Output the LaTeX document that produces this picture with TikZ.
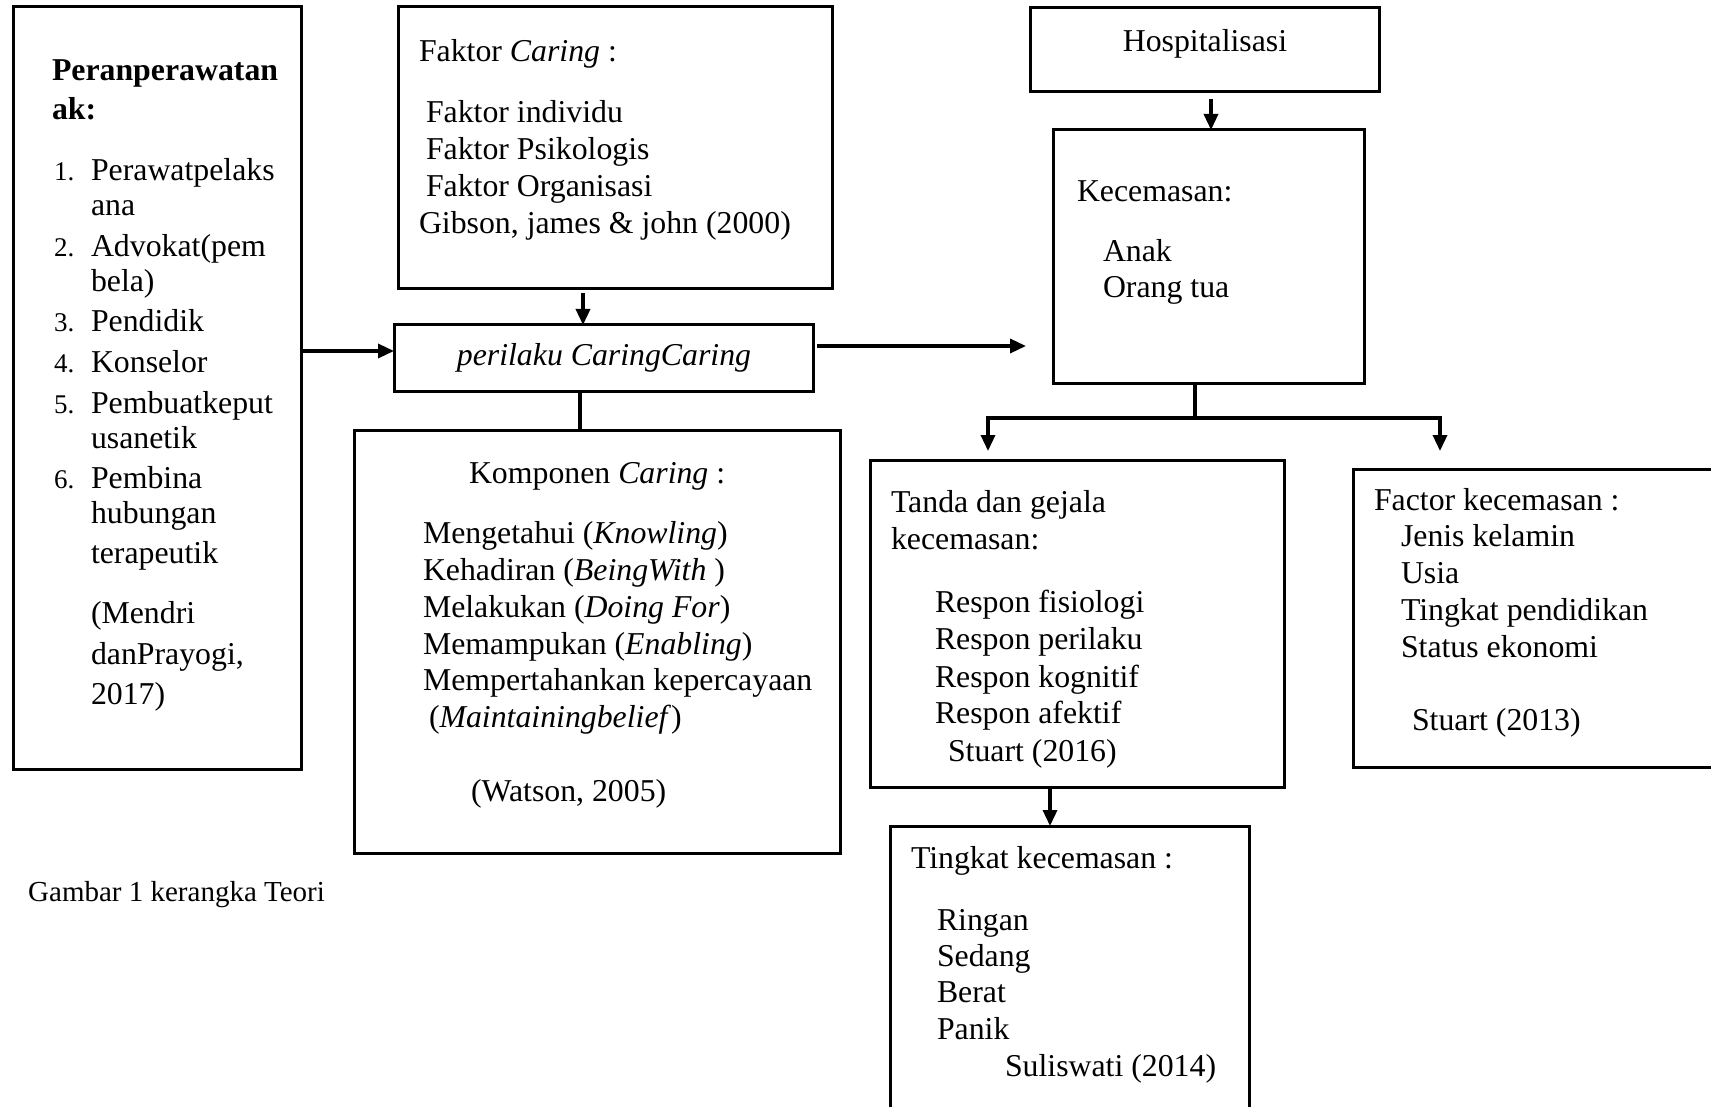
\documentclass[tikz,border=0pt]{standalone}
\usepackage{fontspec}
\setmainfont{Liberation Serif}
\usetikzlibrary{arrows.meta}
\tikzset{
  boxst/.style={draw, line width=3pt, rectangle, inner sep=0pt, outer sep=0pt, anchor=north west},
  conn/.style={line width=3.4pt},
  arr/.style={conn, -{Triangle[length=16pt,width=14pt]}},
  txt/.style={anchor=base west, inner sep=0pt, outer sep=0pt, font=\fontsize{31.8}{37}\selectfont},
  numt/.style={anchor=base west, inner sep=0pt, outer sep=0pt, font=\fontsize{27}{32}\selectfont},
}
\newcommand\mytl[4]{\node[txt] (#1) at (#2,#3) {#4};}
\newcommand\mynum[4]{\node[numt] (#1) at (#2,#3) {#4};}
\begin{document}
\begin{tikzpicture}[x=1pt,y=-1pt]
\clip (0,0) rectangle (1711,1107);
\fill[white] (0,0) rectangle (1711,1107);
% boxes
\node[boxst, minimum width=288pt, minimum height=762pt] (peran) at (13,7) {};
\node[boxst, minimum width=434pt, minimum height=282pt] (faktor) at (398,7) {};
\node[boxst, minimum width=419pt, minimum height=66pt] (perilaku) at (394,325) {};
\node[boxst, minimum width=486pt, minimum height=423pt] (komponen) at (354,430) {};
\node[boxst, minimum width=349pt, minimum height=84pt] (hosp) at (1030,8) {};
\node[boxst, minimum width=311pt, minimum height=253pt] (kecem) at (1053,130) {};
\node[boxst, minimum width=414pt, minimum height=327pt] (tanda) at (870,460) {};
\node[boxst, minimum width=377pt, minimum height=298pt] (factor) at (1353,469) {};
\node[boxst, minimum width=359pt, minimum height=304pt] (tingkat) at (890,826) {};
% helper coordinates
\coordinate (ya) at (0,351);
\coordinate (xa) at (583,0);
\coordinate (xb) at (580,0);
\coordinate (yc) at (0,346);
\coordinate (xd) at (1211,0);
\coordinate (j) at (1195,418);
\coordinate (xl) at (988,0);
\coordinate (xr) at (1440,0);
\coordinate (xt) at (1050,0);
% connectors
\draw[arr] (peran.north east |- ya) -- (perilaku.west |- ya);
\draw[arr, shorten <=4pt] (faktor.south -| xa) -- (perilaku.north -| xa);
\draw[conn] (perilaku.south -| xb) -- (komponen.north -| xb);
\draw[arr, shorten <=4pt, shorten >=27pt] (perilaku.east |- yc) -- (kecem.west |- yc);
\draw[arr, shorten <=7pt] (hosp.south -| xd) -- (kecem.north -| xd);
\draw[conn] (kecem.south -| j) -- (j);
\draw[arr, shorten >=9pt] (j) -| (tanda.north -| xl);
\draw[arr, shorten >=18pt] (j) -| (factor.north -| xr);
\draw[arr] (tanda.south -| xt) -- (tingkat.north -| xt);
% peran text
\mytl{p0}{52}{81}{\bfseries Peranperawatan}
\mytl{p1}{52}{120}{\bfseries ak:}
\mynum{n1}{54}{181}{1.}
\mytl{p2}{91}{181}{Perawatpelaks}
\mytl{p3}{91}{216}{ana}
\mynum{n2}{54}{257}{2.}
\mytl{p4}{91}{257}{Advokat(pem}
\mytl{p5}{91}{292}{bela)}
\mynum{n3}{54}{332}{3.}
\mytl{p6}{91}{332}{Pendidik}
\mynum{n4}{54}{372}{4.}
\mytl{p7}{91}{372}{Konselor}
\mynum{n5}{54}{413}{5.}
\mytl{p8}{91}{413}{Pembuatkeput}
\mytl{p9}{91}{448}{usanetik}
\mynum{n6}{54}{488}{6.}
\mytl{p10}{91}{488}{Pembina}
\mytl{p11}{91}{523}{hubungan}
\mytl{p12}{91}{563}{terapeutik}
\mytl{p13}{91}{623}{(Mendri}
\mytl{p14}{91}{664}{danPrayogi,}
\mytl{p15}{91}{704}{2017)}
% faktor text
\mytl{f0}{419}{62}{Faktor \textit{Caring} :}
\mytl{f1}{426}{123}{Faktor individu}
\mytl{f2}{426}{160}{Faktor Psikologis}
\mytl{f3}{426}{197}{Faktor Organisasi}
\mytl{f4}{419}{234}{Gibson, james \& john (2000)}
% perilaku
\node[txt, anchor=base] (pt) at (604,366) {\textit{perilaku CaringCaring}};
% komponen
\mytl{k0}{469}{483}{Komponen \textit{Caring} :}
\mytl{k1}{423}{543}{Mengetahui (\textit{Knowling})}
\mytl{k2}{423}{580}{Kehadiran (\textit{BeingWith} )}
\mytl{k3}{423}{617}{Melakukan (\textit{Doing For})}
\mytl{k4}{423}{654}{Memampukan (\textit{Enabling})}
\mytl{k5}{423}{690}{Mempertahankan kepercayaan}
\mytl{k6}{429}{727}{(\textit{Maintainingbelief})}
\mytl{k7}{471}{801}{(Watson, 2005)}
% hospitalisasi
\node[txt, anchor=base] (ht) at (1205,52) {Hospitalisasi};
% kecemasan
\mytl{c0}{1077}{202}{Kecemasan:}
\mytl{c1}{1103}{262}{Anak}
\mytl{c2}{1103}{298}{Orang tua}
% tanda
\mytl{t0}{891}{512}{Tanda dan gejala}
\mytl{t1}{891}{549}{kecemasan:}
\mytl{t2}{935}{612}{Respon fisiologi}
\mytl{t3}{935}{649}{Respon perilaku}
\mytl{t4}{935}{687}{Respon kognitif}
\mytl{t5}{935}{723}{Respon afektif}
\mytl{t6}{948}{761}{Stuart (2016)}
% factor
\mytl{r0}{1374}{510}{Factor kecemasan :}
\mytl{r1}{1401}{546}{Jenis kelamin}
\mytl{r2}{1401}{583}{Usia}
\mytl{r3}{1401}{620}{Tingkat pendidikan}
\mytl{r4}{1401}{657}{Status ekonomi}
\mytl{r5}{1412}{730}{Stuart (2013)}
% tingkat
\mytl{g0}{911}{868}{Tingkat kecemasan :}
\mytl{g1}{937}{930}{Ringan}
\mytl{g2}{937}{966}{Sedang}
\mytl{g3}{937}{1002}{Berat}
\mytl{g4}{937}{1039}{Panik}
\mytl{g5}{1005}{1076}{Suliswati (2014)}
% caption
\node[anchor=base west, inner sep=0pt, font=\fontsize{29}{34}\selectfont] (cap) at (28,901) {Gambar 1 kerangka Teori};
\end{tikzpicture}
\end{document}
